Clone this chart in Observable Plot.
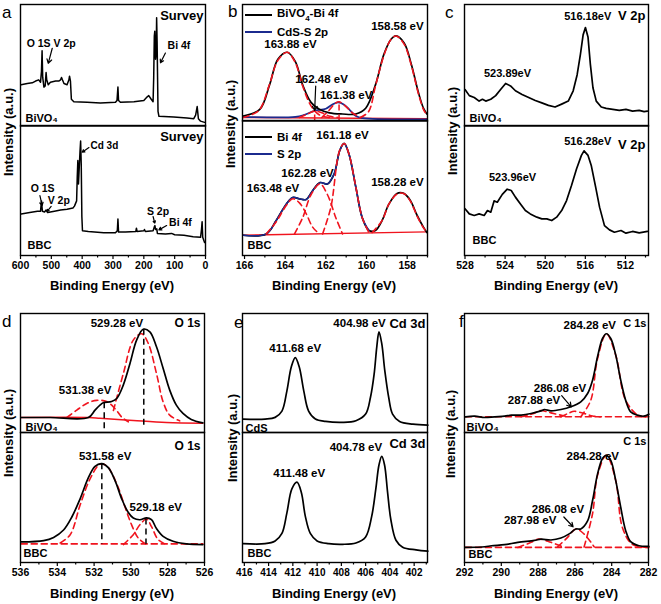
<!DOCTYPE html>
<html><head><meta charset="utf-8">
<script src="https://cdn.jsdelivr.net/npm/d3@7"></script>
<script src="https://cdn.jsdelivr.net/npm/@observablehq/plot@0.6"></script>
<style>
html,body{margin:0;padding:0;background:#fff;}
#fig{position:relative;width:661px;height:604px;background:#fff;font-family:'Liberation Sans',Arial,Helvetica,sans-serif;color:#000;overflow:hidden;}
.lt{position:absolute;font-size:17px;line-height:17px;font-weight:normal;}
.yt{position:absolute;font-size:13px;font-weight:bold;white-space:nowrap;transform:translate(-50%,-50%) rotate(-90deg);}
.xt{position:absolute;font-size:13px;font-weight:bold;white-space:nowrap;transform:translate(-50%,-50%);}
.lg{position:absolute;font-size:11.5px;font-weight:bold;white-space:nowrap;transform:translateY(-50%);}
.ll{position:absolute;height:0;}
</style>
</head><body><div id="fig"></div>
<script>
// ---------------- data (binding energy eV, intensity a.u. 0-100 per sub-panel) ----------------
// a: survey
const aBiVO4 = [[598,34],[578,35],[562,35.5],[551,37],[541,38],[535,36],[532,45],[530,62],[528,40],[524,32],[520,33],[517,44],[515,38],[510,34],[503,36],[486,37],[476,37],[470,38],[467,40],[464,38],[459,35],[449,34],[443,38],[441,41],[438,37],[435,22],[427,20],[384,19.5],[341,19],[292,19.5],[287,21],[284,32],[282,21],[276,19.5],[232,20],[200,21],[189,24],[184,25],[176,22],[170,20],[168,40],[166,74],[164.5,78],[162,55],[160,60],[158.5,89],[157,70],[154,12],[151,8],[103,7.5],[60,6.5],[38,6],[32,9],[27,16],[23,6],[16,4],[3,3]];
const aBBC = [[598,32],[570,33],[545,34],[535,34],[532,42],[529,34],[522,33.5],[517,35],[512,33],[490,34],[470,35],[449,35.5],[430,36.5],[425,38],[418,42],[416,60],[414,73],[412,55],[410,65],[407,80],[405,88],[403,70],[401,30],[399,19],[380,18.5],[330,17.5],[292,17.5],[286,19],[284,28],[282,18],[260,18],[226,18.5],[224,21],[222,18.5],[200,19],[198,20],[195,18.5],[170,19],[166,22],[164,23],[162,20],[158,20.5],[156,17],[130,16.5],[110,17],[100,16],[70,15.5],[40,14.5],[16,14],[13,20],[11,26],[9,14],[3,10]];
const aTopLabels = [[580,67.5,"O 1S V 2p"],[123,66,"Bi 4f"]];
const aTopArrows = [[497,64,510,51.5],[130,60,146,52]];
const aBotLabels = [[567,51.5,"O 1S"],[512,42.3,"V 2p"],[190,33.5,"S 2p"],[118,25,"Bi 4f"]];
const aBotCdLabel = [[373,84.6,"Cd 3d"]];
const aBotArrows = [[378,83,400,79.5],[537,46,530,38.5],[500.5,37.7,513.5,34],[170,30,164.4,24.9],[126,23,151,19.7]];

// b: Bi 4f / S 2p
const bBiVO4 = [[166.07,4.3],[165.25,10],[164.77,31],[164.36,53],[163.9,59],[163.5,51],[163.14,31],[162.73,16],[162.32,10],[161.83,7],[161.18,6],[160.53,6],[160.04,11],[159.56,31],[159.15,57],[158.8,70],[158.55,73],[158.15,67],[157.8,49],[157.44,24],[157.2,11],[157.03,6]];
const bCdS = [[166.07,3.5],[163.5,3.5],[163.1,5],[162.75,7.5],[162.5,9],[162.0,10.5],[161.7,14],[161.4,16],[161.1,14],[160.8,9],[160.5,4],[160.2,2.5],[157.03,1.5]];
const bTopFitBi1 = [[166.07,3],[165.3,9],[164.8,30],[164.36,52],[163.9,59],[163.5,50],[163.14,30],[162.73,13],[162.3,5],[161.8,3]];
const bTopFitBi2 = [[160.3,3],[159.9,8],[159.56,30],[159.15,56],[158.8,70],[158.55,73],[158.15,66],[157.8,48],[157.44,23],[157.2,10],[157.03,5]];
const bTopFitS1 = [[162.2,3],[161.85,9],[161.55,15],[161.35,16.5],[161.05,13],[160.7,7],[160.3,3]];
const bTopFitS2 = [[163.3,3],[162.9,6],[162.55,8.5],[162.2,7],[161.8,4],[161.4,3]];
const bTopBase = [[166.07,3],[157.03,2]];
const bTopRules = [[162.55,0,9],[161.35,0,17]];
const bTopLabels = [[158.48,81.5,"158.58 eV"],[163.74,66,"163.88 eV"],[162.21,36,"162.48 eV"],[161.0,22.3,"161.38 eV"]];
const bTopArrows = [[162.5,30,162.55,9]];
const bBBC = [[166.07,15],[164.93,16],[164.44,26],[163.95,38],[163.63,43],[163.3,42],[162.97,41.5],[162.65,48],[162.29,54],[161.92,53],[161.59,60.5],[161.31,78],[161.1,83],[160.86,75],[160.53,51],[160.21,28],[159.88,18.5],[159.56,18.5],[159.23,26],[158.9,38],[158.5,46],[158.17,46],[157.85,41],[157.52,30],[157.2,21],[157.03,17]];
const bBBCS = [[166.07,15],[164.93,16],[164.44,26],[163.95,38],[163.63,43],[163.3,42],[162.97,41.5],[162.65,48],[162.29,54],[161.92,53],[161.59,60.5],[161.31,78],[161.1,83],[160.86,75],[160.53,51],[160.21,28],[159.88,18.5]];
const bBotFit1 = [[164.93,16],[164.44,25],[163.95,37],[163.63,42],[163.3,39],[162.97,31],[162.65,21],[162.32,16]];
const bBotFit2 = [[163.54,16],[163.14,28],[162.73,45],[162.29,53],[161.92,45],[161.51,28],[161.18,16]];
const bBotFit3 = [[162.16,16],[161.75,36],[161.34,77],[161.1,83],[160.86,75],[160.53,51],[160.21,28],[159.88,17]];
const bBotFit4 = [[159.72,17],[159.23,26],[158.9,38],[158.5,45.5],[158.17,46],[157.85,40.5],[157.52,29.5],[157.2,20.5],[157.03,17.5]];
const bBotBase = [[166.07,15],[157.03,17.5]];
const bBotLabels = [[161.18,88.9,"161.18 eV"],[162.9,60.7,"162.28 eV"],[164.6,49.6,"163.48 eV"],[158.48,54,"158.28 eV"]];

// c: V 2p
const cBiVO4 = [[528.0,30],[527.57,25],[527.08,23.5],[526.59,20.5],[526.26,22],[525.93,20.5],[525.43,22],[524.94,25],[524.45,30],[523.95,35],[523.46,33],[522.97,29],[522.31,26],[521.65,23.5],[520.99,21],[520.34,19],[519.68,17],[519.02,15.6],[518.36,18],[517.7,20.5],[517.21,29],[516.82,42],[516.49,59],[516.22,75],[515.99,81],[515.73,73],[515.5,51],[515.24,31.5],[514.91,20.5],[514.41,15.6],[513.92,14.5],[513.26,13.7],[512.61,12.9],[511.95,13.7],[511.29,12.3],[510.63,12.9],[510.14,11.8],[509.81,12.3]];
const cBBC = [[528.0,36],[527.57,32],[527.08,30.8],[526.59,32],[526.09,30.8],[525.76,34.6],[525.43,33.3],[525.1,42],[524.78,41],[524.28,47],[523.79,51],[523.39,50],[522.97,44.9],[522.47,39.7],[521.98,34.6],[521.49,32],[520.83,29.5],[520.34,28.2],[519.84,28.2],[519.35,26.9],[518.86,29.5],[518.36,34.6],[517.87,42.3],[517.38,53.8],[516.88,66.5],[516.39,77],[516.13,80.5],[515.73,77],[515.4,69],[514.97,52.6],[514.58,37.2],[514.09,23],[513.59,19.7],[513.1,17.9],[512.44,19.2],[511.95,17.2],[511.29,18.5],[510.63,17.4],[509.81,18.5]];
const cTopLabels = [[515.76,90.5,"516.18eV"],[523.76,43.6,"523.89eV"]];
const cBotLabels = [[515.76,88,"516.28eV"],[523.26,60,"523.96eV"]];

// d: O 1s
const dBiVO4 = [[535.96,12.6],[534.38,12.6],[532.31,12.6],[531.95,18.8],[531.68,23],[531.5,25],[531.05,26],[530.77,28.6],[530.41,40],[530.05,58],[529.69,77.6],[529.33,86.8],[528.97,84.6],[528.61,72],[528.25,54],[527.89,35.6],[527.53,23],[527.17,16],[526.72,11],[526.09,8.1]];
const dFitA = [[530.95,18.5],[530.41,49.6],[529.87,77.6],[529.42,83],[529.06,75],[528.61,49.6],[528.25,25.8],[527.89,14.6],[527.35,9.8]];
const dFitB = [[533.48,12.6],[532.94,18.8],[532.4,24.4],[531.86,27],[531.32,26],[530.86,20],[530.5,13],[530.14,9]];
const dBase = [[535.96,12.6],[532.31,12.6],[531.68,12],[529.87,10.1],[528.07,8.4],[526.09,7.8]];
const dRules = [[531.45,25,0.5],[529.3,86.8,5]];
const dTopLabels = [[530.76,91.6,"529.28 eV"],[532.49,35.3,"531.38 eV"]];
const dBBC = [[535.96,15.8],[534.74,16.8],[534.2,19.3],[533.66,25],[533.21,35],[532.76,49],[532.31,65.3],[531.95,74],[531.59,76.1],[531.23,73],[530.86,63],[530.5,49],[530.14,38.4],[529.87,34.2],[529.51,32.9],[529.15,34.4],[528.88,32.9],[528.61,26.1],[528.25,20.1],[527.71,16.3],[526.99,14.3],[526.09,13.8]];
const dBBCFitA = [[533.84,15],[533.3,21.4],[532.76,44.2],[532.22,64.3],[531.68,75.6],[531.32,74.4],[530.77,60.5],[530.32,42.7],[529.96,28.9],[529.6,18.8],[529.15,13.8]];
const dBBCFitB = [[530.41,13.8],[529.87,21.4],[529.51,29.1],[529.15,33.4],[528.88,27.6],[528.52,17.6],[528.07,13.8]];
const dBBCBase = [[535.96,14.3],[526.09,14.3]];
const dBBCRules = [[531.58,76,14],[529.18,33.4,14]];
const dBotLabels = [[531.4,81.5,"531.58 eV"],[528.65,42.3,"529.18 eV"]];

// e: Cd 3d
const eCdS = [[416.09,11.3],[414.29,11.3],[413.46,12.7],[412.9,18],[412.49,35],[412.13,55],[411.8,63],[411.47,55],[411.1,35],[410.7,18],[410.14,11.3],[409.3,9.3],[407.9,8.5],[406.8,9.9],[406.0,15.5],[405.6,29.6],[405.3,49],[405.08,72],[404.9,84.5],[404.67,74.6],[404.42,52],[404.1,29.6],[403.78,15.5],[403.2,9.3],[402.1,7],[400.87,6.2]];
const eBBC = [[416.09,14.5],[414.29,14.5],[413.46,16.6],[412.9,22.4],[412.49,38.2],[412.08,56.6],[411.66,61.8],[411.3,53.9],[410.97,35.5],[410.56,22.4],[410.0,16.6],[409.04,14.5],[407.9,14],[406.8,15],[406.0,19.7],[405.5,35.5],[405.16,56.6],[404.9,75],[404.67,81.6],[404.44,75],[404.19,54],[403.92,32.9],[403.5,17.1],[402.95,11.8],[401.84,9.7],[400.87,8.7]];
const eTopLabels = [[406.5,91.6,"404.98 eV"],[411.8,70.6,"411.68 eV"]];
const eBotLabels = [[406.8,88.5,"404.78 eV"],[411.47,68.5,"411.48 eV"]];

// f: C 1s
const fBiVO4 = [[291.95,13.2],[291.44,13.7],[290.9,12.6],[290.36,13.2],[289.82,13.7],[289.46,14.6],[288.92,14.6],[288.38,16],[287.84,18.2],[287.66,19.3],[287.3,18.2],[286.76,19.3],[286.22,21.6],[285.68,25.8],[285.31,32.8],[285.04,44],[284.77,63.6],[284.5,79],[284.29,83],[284.05,79],[283.78,65],[283.51,44],[283.24,27],[282.97,17.4],[282.61,14.6],[282.25,13.7],[281.98,15.4]];
const fFitA = [[285.68,13.2],[285.14,27],[284.77,62],[284.29,83],[283.78,65],[283.24,27],[282.52,14],[282.0,13.2]];
const fFitB = [[286.76,13.2],[286.3,16.5],[286.04,17.8],[285.5,16],[285.04,13.8],[284.6,13.2]];
const fFitC = [[288.92,13.2],[288.2,16.2],[287.88,18.5],[287.3,16.5],[286.4,13.2]];
const fBase = [[291.95,13.2],[281.98,13.2]];
const fTopLabels = [[286.81,37,"286.08 eV"],[288.22,26.9,"287.88 eV"],[285.19,89.9,"284.28 eV"]];
const fTopArrows = [[286.72,31,286.2,21.5]];
const fBBC = [[291.95,11.6],[290.9,12.1],[290.54,12.9],[289.82,13.7],[289.1,15.5],[288.2,17],[287.84,18],[287.3,17.3],[286.76,18.8],[286.31,22],[285.95,25.8],[285.68,25.8],[285.31,32],[285.04,47.7],[284.77,68],[284.5,80],[284.29,82.5],[284.05,78.6],[283.78,63],[283.51,42.5],[283.24,24.5],[282.97,16],[282.52,12.9],[281.98,12.4]];
const fBBCFitA = [[285.5,12],[285.04,37.6],[284.77,67],[284.29,82.5],[283.78,63],[283.42,27],[282.88,14],[281.98,11.6]];
const fBBCFitB = [[286.94,12],[286.4,19.3],[285.95,25.8],[285.5,21.9],[284.95,12]];
const fBBCFitC = [[289.1,11.6],[288.38,15.5],[287.98,18],[287.3,15.5],[286.58,11.6]];
const fBBCBase = [[291.95,11.6],[281.98,11.6]];
const fBotLabels = [[285.03,81.5,"284.28 eV"],[286.92,40.8,"286.08 eV"],[288.43,32.3,"287.98 eV"]];
const fBotArrows = [[286.6,35,286.1,27.5]];

// axis ticks
const aMajor = [600,500,400,300,200,100,0], aMinor = [550,450,350,250,150,50];
const bMajor = [166,164,162,160,158], bMinor = [165,163,161,159,157];
const cMajor = [528,524,520,516,512], cMinor = [526,522,518,514,510];
const dMajor = [536,534,532,530,528,526], dMinor = [535,533,531,529,527];
const eMajor = [416,414,412,410,408,406,404,402], eMinor = [415,413,411,409,407,405,403,401];
const fMajor = [292,290,288,286,284,282], fMinor = [291,289,287,285,283];

// ---------------- drawing ----------------
const fig = document.getElementById("fig");
const RED = "#f0141e", BLUE = "#1b2a8e";
const FONT = "'Liberation Sans', Arial, Helvetica, sans-serif";
const X = d => d[0], Y = d => d[1];

const line = (data, o = {}) => Plot.line(data, {x: X, y: Y, stroke: "#000", strokeWidth: 1.7, curve: "catmull-rom", ...o});
const fit = (data, o = {}) => Plot.line(data, {x: X, y: Y, stroke: RED, strokeWidth: 1.6, strokeDasharray: "6,4", curve: "catmull-rom", ...o});
const labels = (data, o = {}) => Plot.text(data, {x: X, y: Y, text: d => d[2], fontSize: 11.5, fontWeight: "bold", fill: "#000", ...o});
const arrows = (data, o = {}) => Plot.arrow(data, {x1: d => d[0], y1: d => d[1], x2: d => d[2], y2: d => d[3], stroke: "#000", strokeWidth: 1.2, headLength: 6, bend: 0, ...o});
const corner = (t, anchor, dx, dy, o = {}) => Plot.text([t], {text: d => d, frameAnchor: anchor, dx, dy, lineAnchor: "middle", textAnchor: anchor.endsWith("right") ? "end" : "start", fontSize: 13, fontWeight: "bold", fill: "#000", ...o});
const vrules = (data, o = {}) => Plot.ruleX(data, {x: X, y1: d => d[1], y2: d => d[2], stroke: "#000", strokeWidth: 1.5, strokeDasharray: "6,4", ...o});

function sub(o) {
  const ML = 3, MR = 3, MT = 3, MB = o.axis ? 26 : 3;
  const w = o.x1 - o.x0, h = o.y1 - o.y0;
  const marks = [...o.marks, Plot.frame({stroke: "#000", strokeWidth: 1.4})];
  if (o.axis) {
    marks.push(Plot.axisX(o.minor, {tickSize: 2.5, tickFormat: () => "", label: null, strokeWidth: 1.2}));
    marks.push(Plot.axisX(o.major, {tickSize: 4, tickPadding: 2, label: null, strokeWidth: 1.2, fontSize: o.tickFont || 10.5, fontWeight: "bold"}));
  }
  const svg = Plot.plot({
    width: w + ML + MR, height: h + MT + MB,
    marginLeft: ML, marginRight: MR, marginTop: MT, marginBottom: MB,
    x: o.axis ? {domain: o.domain} : {domain: o.domain, axis: null},
    y: {domain: [0, 100], axis: null},
    style: {fontFamily: FONT, fontWeight: "bold", fontSize: "11px", overflow: "visible", background: "transparent", color: "#000"},
    marks
  });
  svg.style.position = "absolute";
  svg.style.left = (o.x0 - ML) + "px";
  svg.style.top = (o.y0 - MT) + "px";
  fig.appendChild(svg);
}

function html(cls, text, x, y, extra = "") {
  const d = document.createElement("div");
  d.className = cls;
  d.innerHTML = text;
  d.style.cssText += `left:${x}px;top:${y}px;${extra}`;
  fig.appendChild(d);
}
function legendLine(x0, x1, y, color) {
  const d = document.createElement("div");
  d.className = "ll";
  d.style.cssText += `left:${x0}px;top:${y - 1}px;width:${x1 - x0}px;border-top:2px solid ${color};`;
  fig.appendChild(d);
}

const R1 = {top: 3.5, bot: 255}, R2 = {top: 313, mid: 432, bot: 562};

// panel a
sub({x0: 20, x1: 205, y0: R1.top, y1: 125, domain: [600, 0], marks: [
  line(aBiVO4, {curve: "linear", strokeWidth: 1.5}),
  labels(aTopLabels, {textAnchor: "start", fontSize: 10.5}),
  arrows(aTopArrows),
  corner("Survey", "top-right", -2, 11.5),
  corner("BiVO₄", "bottom-left", 5, -8, {fontSize: 11})
]});
sub({x0: 20, x1: 205, y0: 125, y1: R1.bot, domain: [600, 0], axis: true, major: aMajor, minor: aMinor, marks: [
  line(aBBC, {curve: "linear", strokeWidth: 1.5}),
  labels(aBotLabels, {textAnchor: "start", fontSize: 10.5}),
  labels(aBotCdLabel, {textAnchor: "start", fontSize: 10}),
  arrows(aBotArrows),
  corner("Survey", "top-right", -2, 11),
  corner("BBC", "bottom-left", 7, -10, {fontSize: 11})
]});

// panel b
sub({x0: 242, x1: 427, y0: R1.top, y1: 120, domain: [166.1, 157], marks: [
  Plot.line(bTopBase, {x: X, y: Y, stroke: RED, strokeWidth: 1.5}),
  line(bCdS, {stroke: BLUE}),
  line(bBiVO4),
  fit(bTopFitBi1), fit(bTopFitBi2), fit(bTopFitS1), fit(bTopFitS2),
  vrules(bTopRules, {stroke: RED}),
  labels(bTopLabels),
  arrows(bTopArrows)
]});
sub({x0: 242, x1: 427, y0: 120, y1: R1.bot, domain: [166.1, 157], axis: true, major: bMajor, minor: bMinor, marks: [
  Plot.line(bBotBase, {x: X, y: Y, stroke: RED, strokeWidth: 1.5}),
  line(bBBC),
  line(bBBCS, {stroke: BLUE, strokeWidth: 1.5}),
  fit(bBotFit1), fit(bBotFit2), fit(bBotFit3), fit(bBotFit4),
  labels(bBotLabels),
  corner("BBC", "bottom-left", 5, -10, {fontSize: 11})
]});

// panel c
sub({x0: 464, x1: 648, y0: R1.top, y1: 125, domain: [528.05, 509.7], marks: [
  line(cBiVO4, {curve: "linear"}),
  labels(cTopLabels, {fontSize: 11}),
  corner("V 2p", "top-right", -3, 11.5),
  corner("BiVO₄", "bottom-left", 5, -8, {fontSize: 11})
]});
sub({x0: 464, x1: 648, y0: 125, y1: R1.bot, domain: [528.05, 509.7], axis: true, major: cMajor, minor: cMinor, marks: [
  line(cBBC, {curve: "linear"}),
  labels(cBotLabels, {fontSize: 11}),
  corner("V 2p", "top-right", -3, 19),
  corner("BBC", "bottom-left", 8, -15, {fontSize: 11})
]});

// panel d
sub({x0: 20, x1: 204, y0: R2.top, y1: R2.mid, domain: [536, 526], marks: [
  Plot.line(dBase, {x: X, y: Y, stroke: RED, strokeWidth: 1.5, curve: "catmull-rom"}),
  fit(dFitA), fit(dFitB),
  line(dBiVO4),
  vrules(dRules),
  labels(dTopLabels),
  corner("O 1s", "top-right", -4, 10, {fontSize: 12}),
  corner("BiVO₄", "bottom-left", 5, -5, {fontSize: 11})
]});
sub({x0: 20, x1: 204, y0: R2.mid, y1: R2.bot, domain: [536, 526], axis: true, major: dMajor, minor: dMinor, marks: [
  fit(dBBCBase),
  fit(dBBCFitA), fit(dBBCFitB),
  line(dBBC),
  vrules(dBBCRules),
  labels(dBotLabels),
  corner("O 1s", "top-right", -4, 14, {fontSize: 12}),
  corner("BBC", "bottom-left", 3, -9, {fontSize: 11})
]});

// panel e
sub({x0: 242, x1: 427, y0: R2.top, y1: R2.mid, domain: [416.15, 400.9], marks: [
  line(eCdS),
  labels(eTopLabels),
  corner("Cd 3d", "top-right", -2, 10),
  corner("CdS", "bottom-left", 3, -4, {fontSize: 11})
]});
sub({x0: 242, x1: 427, y0: R2.mid, y1: R2.bot, domain: [416.15, 400.9], axis: true, major: eMajor, minor: eMinor, tickFont: 10, marks: [
  line(eBBC),
  labels(eBotLabels),
  corner("Cd 3d", "top-right", -2, 11),
  corner("BBC", "bottom-left", 5, -9, {fontSize: 11})
]});

// panel f
sub({x0: 464, x1: 648, y0: R2.top, y1: R2.mid, domain: [292, 282], marks: [
  fit(fBase), fit(fFitC), fit(fFitB), fit(fFitA),
  line(fBiVO4),
  labels(fTopLabels),
  arrows(fTopArrows),
  corner("C 1s", "top-right", -2, 10, {fontSize: 11}),
  corner("BiVO₄", "bottom-left", 2, -5, {fontSize: 11})
]});
sub({x0: 464, x1: 648, y0: R2.mid, y1: R2.bot, domain: [292, 282], axis: true, major: fMajor, minor: fMinor, marks: [
  fit(fBBCBase), fit(fBBCFitC), fit(fBBCFitB), fit(fBBCFitA),
  line(fBBC),
  labels(fBotLabels),
  arrows(fBotArrows),
  corner("C 1s", "top-right", -2, 9, {fontSize: 11}),
  corner("BBC", "bottom-left", 4, -8, {fontSize: 11})
]});

// panel letters
html("lt", "a", 2, 3.6); html("lt", "b", 228, 2.6); html("lt", "c", 445, 3.6);
html("lt", "d", 2, 312.6); html("lt", "e", 234, 313.6); html("lt", "f", 459, 312.6);
// y titles
html("yt", "Intensity (a.u.)", 8, 132); html("yt", "Intensity (a.u.)", 230, 124); html("yt", "Intensity (a.u.)", 452, 131);
html("yt", "Intensity (a.u.)", 8, 433); html("yt", "Intensity (a.u.)", 232, 438); html("yt", "Intensity (a.u.)", 450, 434);
// x titles
html("xt", "Binding Energy (eV)", 112, 285); html("xt", "Binding Energy (eV)", 334, 285); html("xt", "Binding Energy (eV)", 556, 285);
html("xt", "Binding Energy (eV)", 112, 593); html("xt", "Binding Energy (eV)", 334, 593); html("xt", "Binding Energy (eV)", 556, 593);
// legend in b
legendLine(245, 272, 15, "#000"); html("lg", "BiVO<sub style='font-size:8px'>4</sub>-Bi 4f", 277, 15);
legendLine(245, 272, 32, BLUE); html("lg", "CdS-S 2p", 277, 32);
legendLine(245, 272, 137, "#000"); html("lg", "Bi 4f", 277, 137);
legendLine(245, 272, 154, BLUE); html("lg", "S 2p", 277, 154);
</script></body></html>
